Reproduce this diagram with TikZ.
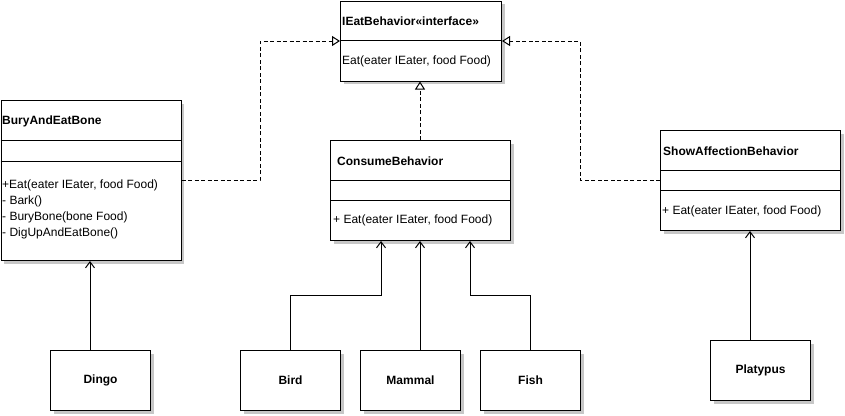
\documentclass[tikz,border=0pt]{standalone}
\usepackage{fontspec}
\setmainfont{Liberation Sans}
\usetikzlibrary{arrows.meta,shadows}
\begin{document}
\begin{tikzpicture}[x=1pt,y=-1pt,
  cls/.style={draw, line width=1pt, fill=white, anchor=north west, inner sep=0pt,
    drop shadow={shadow xshift=3pt, shadow yshift=-3pt, fill=black!22, opacity=1}},
  txt/.style={anchor=west, inner sep=0pt, font=\fontsize{12}{14}\selectfont},
  ttl/.style={txt, font=\fontsize{12}{14}\selectfont\bfseries},
  lbl/.style={inner sep=0pt, font=\fontsize{12}{14}\selectfont\bfseries},
  sep/.style={line width=1pt},
  impl/.style={line width=1pt, dash pattern=on 4pt off 2.5pt,
    -{Triangle[open, length=8pt, width=10pt, fill=white]}},
  assoc/.style={line width=1pt, -{Straight Barb[length=6pt, width=9pt]}}]
\useasboundingbox (0,0) rectangle (845,415);

% IEatBehavior
\node[cls, minimum width=161pt, minimum height=80pt] (ieb) at (340,0.5) {};
\draw[sep] (340,40) -- (501,40);
\node[ttl] (iebT) at (342,21) {IEatBehavior«interface»};
\node[txt] (iebM) at (342,61) {Eat(eater IEater, food Food)};

% BuryAndEatBone
\node[cls, minimum width=180pt, minimum height=160pt] (bury) at (0.5,100) {};
\draw[sep] (0.5,140) -- (180.5,140);
\draw[sep] (0.5,161) -- (180.5,161);
\node[ttl] (buryT) at (2,121) {BuryAndEatBone};
\node[txt] (buryM1) at (2,185) {+Eat(eater IEater, food Food)};
\node[txt] (buryM2) at (2,201) {- Bark()};
\node[txt] (buryM3) at (2,217) {- BuryBone(bone Food)};
\node[txt] (buryM4) at (2,233) {- DigUpAndEatBone()};

% ConsumeBehavior
\node[cls, minimum width=180pt, minimum height=100pt] (cons) at (330,140) {};
\draw[sep] (330,180) -- (510,180);
\draw[sep] (330,200) -- (510,200);
\node[ttl] (consT) at (337,161) {ConsumeBehavior};
\node[txt] (consM) at (333,220) {+ Eat(eater IEater, food Food)};

% ShowAffectionBehavior
\node[cls, minimum width=180pt, minimum height=100pt] (show) at (660,130) {};
\draw[sep] (660,170) -- (840,170);
\draw[sep] (660,190) -- (840,190);
\node[ttl] (showT) at (663,151) {ShowAffectionBehavior};
\node[txt] (showM) at (662,211) {+ Eat(eater IEater, food Food)};

% concrete classes
\node[cls, minimum width=100pt, minimum height=60pt] (dingo) at (50,350) {};
\node[lbl] at (dingo.center) {Dingo};
\node[cls, minimum width=100pt, minimum height=60pt] (bird) at (240,350) {};
\node[lbl] at (bird.center) {Bird};
\node[cls, minimum width=100pt, minimum height=60pt] (mammal) at (360,350) {};
\node[lbl] at (mammal.center) {Mammal};
\node[cls, minimum width=100pt, minimum height=60pt] (fish) at (480,350) {};
\node[lbl] at (fish.center) {Fish};
\node[cls, minimum width=100pt, minimum height=60pt] (platy) at (710,340) {};
\node[lbl] at (platy.center) {Platypus};

% realization connectors
\coordinate (bl) at (260,180);
\coordinate (sr) at (580,180);
\draw[impl] (bury.east |- bl) -- (bl) |- (ieb.west);
\draw[impl] (show.west |- sr) -- (sr) |- (ieb.east);
\draw[impl] (cons.north -| 420,0) -- (ieb.south -| 420,0);

% association connectors
\coordinate (bk) at (381,295);
\coordinate (fk) at (470,295);
\coordinate (dx) at (90,0);
\coordinate (mx) at (420,0);
\coordinate (px) at (750,0);
\draw[assoc] (bird.north) |- (bk) -- (bk |- cons.south);
\draw[assoc] (mammal.north -| mx) -- (cons.south -| mx);
\draw[assoc] (fish.north) |- (fk) -- (fk |- cons.south);
\draw[assoc] (dingo.north -| dx) -- (bury.south -| dx);
\draw[assoc] (platy.north -| px) -- (show.south -| px);
\end{tikzpicture}
\end{document}
